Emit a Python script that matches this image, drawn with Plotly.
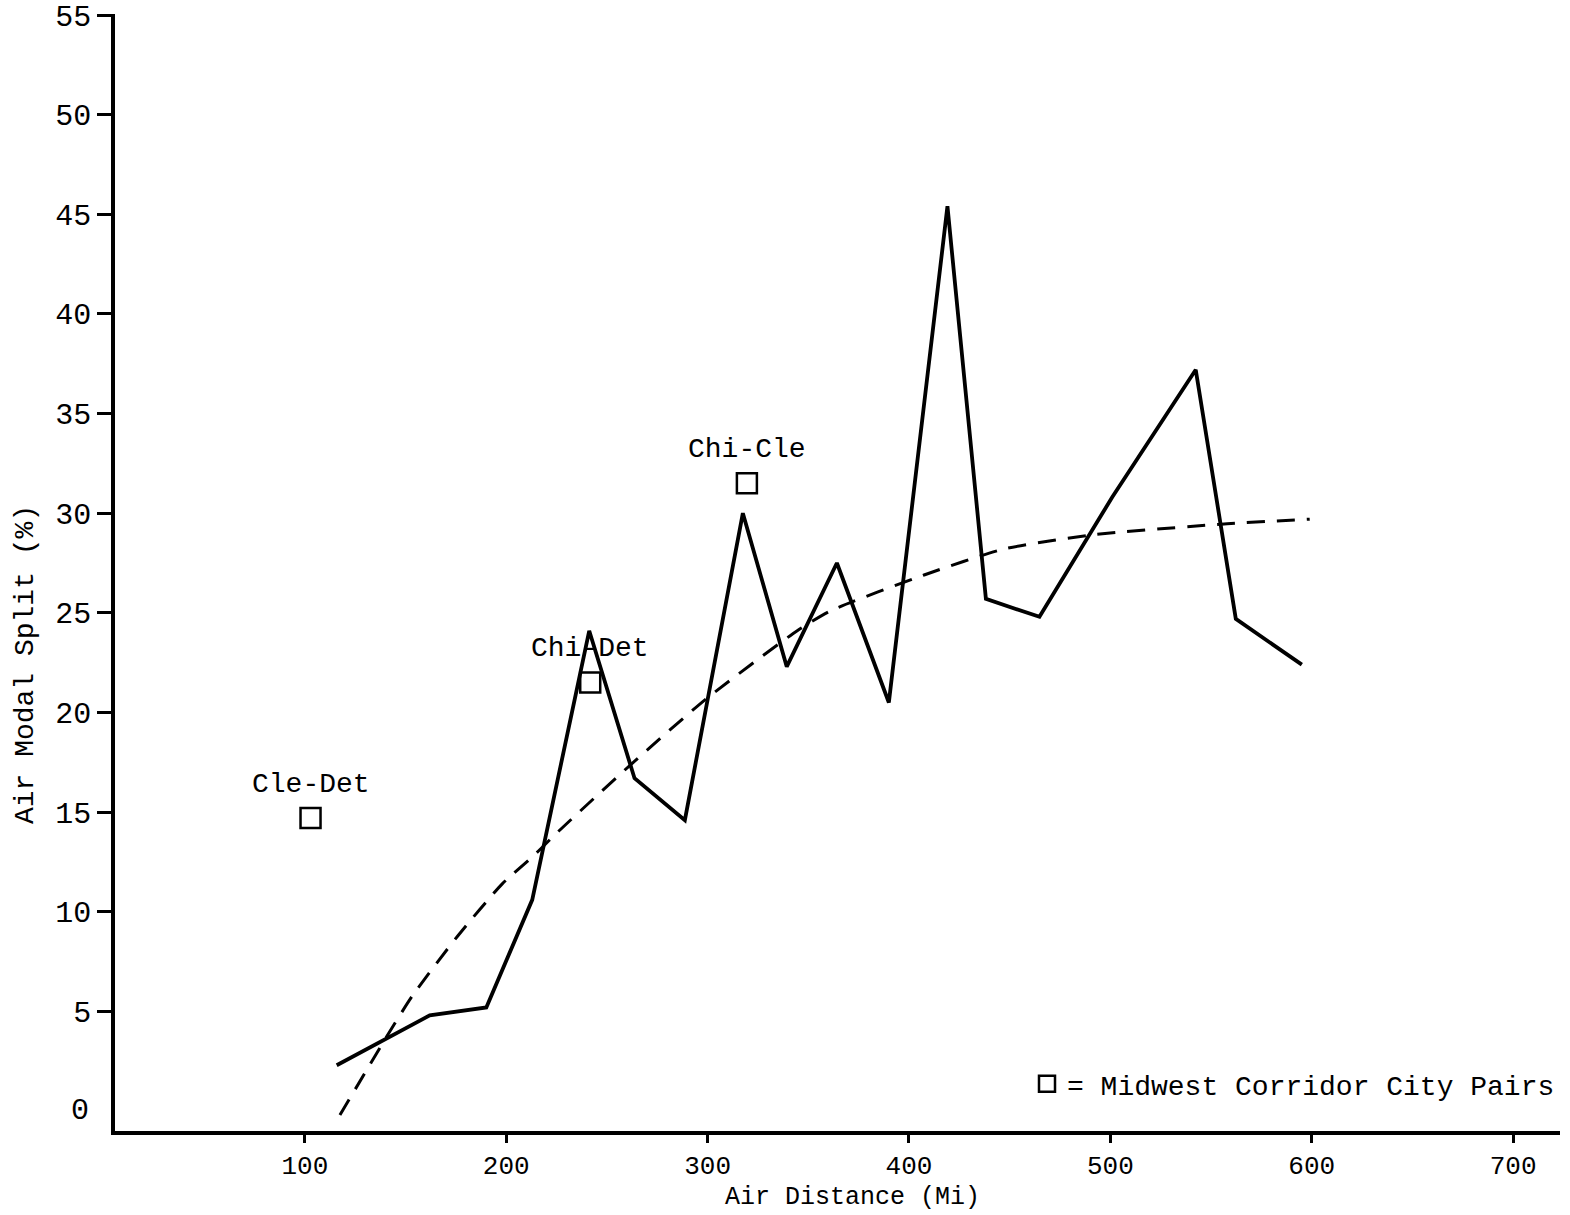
import plotly.graph_objects as go

# Air modal split versus air distance, by city-pair distance group
distance_mi = [115.8, 162, 190.1, 212.9, 241.2, 263.7, 288.7, 317.5, 339.3,
               364.2, 390, 419.1, 438.2, 464.8, 500.9, 542.4, 562.3, 595.1]
modal_split = [2.3, 4.8, 5.2, 10.6, 24.1, 16.7, 14.6, 30.0, 22.3,
               27.5, 20.5, 45.4, 25.7, 24.8, 30.8, 37.2, 24.7, 22.4]

# Fitted trend curve
fit_distance = [117.4, 140.4, 153.5, 176, 198, 214.5, 224.5, 262, 299.5,
                344.5, 361, 407.5, 447, 490, 555, 599]
fit_split = [-0.2, 3.7, 5.8, 8.8, 11.4, 12.9, 13.9, 17.4, 20.7,
             24.1, 25.1, 26.9, 28.2, 28.9, 29.45, 29.7]

# Midwest corridor city pairs
pair_names = ["Cle-Det", "Chi-Det", "Chi-Cle"]
pair_distance = [102.8, 241.7, 319.5]
pair_split = [14.7, 21.5, 31.5]

x_ticks = [100, 200, 300, 400, 500, 600, 700]
y_ticks = [5, 10, 15, 20, 25, 30, 35, 40, 45, 50, 55]

FONT = "Liberation Mono, Courier New, monospace"
INK = "#000000"

fig = go.Figure()

fig.add_trace(go.Scatter(
    x=fit_distance, y=fit_split, mode="lines",
    line=dict(color=INK, width=3, dash="18px,12px", shape="spline", smoothing=0.6),
    showlegend=False, hoverinfo="skip",
))

fig.add_trace(go.Scatter(
    x=distance_mi, y=modal_split, mode="lines",
    line=dict(color=INK, width=3.8),
    showlegend=False,
))

fig.add_trace(go.Scatter(
    x=pair_distance, y=pair_split, mode="markers",
    marker=dict(symbol="square-open", size=20, color=INK, line=dict(width=2.5, color=INK)),
    name="= Midwest Corridor City Pairs",
    showlegend=True,
))

annotations = []
for name, xd, yd in zip(pair_names, pair_distance, pair_split):
    annotations.append(dict(
        x=xd, y=yd, xref="x", yref="y", text=name, showarrow=False,
        yshift=34, font=dict(family=FONT, size=28, color=INK),
    ))

# zero label on the value axis (no tick mark at zero)
annotations.append(dict(
    x=0, y=0, xref="paper", yref="y", text="0", showarrow=False,
    xanchor="right", xshift=-24, font=dict(family=FONT, size=30, color=INK),
))

# axis titles
annotations.append(dict(
    x=-0.0623, y=0.418, xref="paper", yref="paper", text="Air Modal Split (%)",
    showarrow=False, textangle=-90, xanchor="center", yanchor="middle",
    font=dict(family=FONT, size=28, color=INK),
))
annotations.append(dict(
    x=0.5107, y=-0.0595, xref="paper", yref="paper", text="Air Distance (Mi)",
    showarrow=False, xanchor="center", yanchor="middle",
    font=dict(family=FONT, size=25, color=INK),
))

fig.update_layout(
    width=1570, height=1215,
    margin=dict(l=115, r=10, t=14, b=84, autoexpand=False),
    paper_bgcolor="white", plot_bgcolor="white",
    font=dict(family=FONT, size=28, color=INK),
    annotations=annotations,
    legend=dict(
        x=1.0, y=0.042, xanchor="right", yanchor="middle",
        bgcolor="rgba(0,0,0,0)", borderwidth=0,
        font=dict(family=FONT, size=28, color=INK),
        itemsizing="trace",
    ),
)

fig.update_xaxes(
    range=[5.7, 723.3], tickvals=x_ticks, ticktext=[str(v) for v in x_ticks],
    showgrid=False, zeroline=False,
    showline=True, linecolor=INK, linewidth=3.5,
    ticks="outside", ticklen=8, tickwidth=3, tickcolor=INK,
    tickfont=dict(family=FONT, size=26, color=INK),
)
fig.update_yaxes(
    range=[-1.0, 55.05], tickvals=y_ticks, ticktext=[str(v) for v in y_ticks],
    showgrid=False, zeroline=False,
    showline=True, linecolor=INK, linewidth=3.5,
    ticks="outside", ticklen=14, tickwidth=3, tickcolor=INK,
    tickfont=dict(family=FONT, size=30, color=INK),
)

fig.write_html("out.html")
